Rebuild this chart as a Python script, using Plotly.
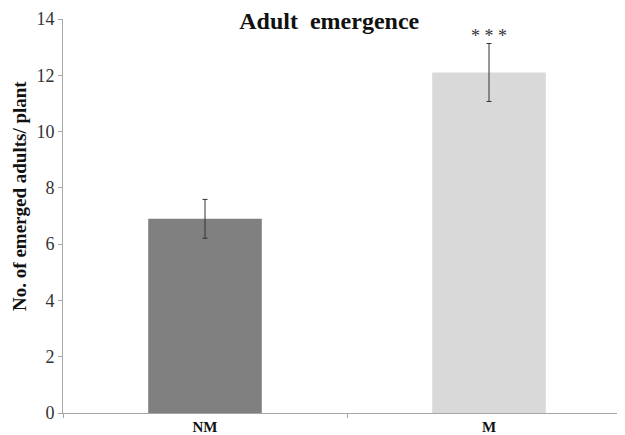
import plotly.graph_objects as go

categories = ["NM", "M"]
values = [6.9, 12.1]
errors = [0.69, 1.03]
colors = ["#808080", "#d9d9d9"]
significance = ["", "* * *"]

fig = go.Figure()
fig.add_trace(go.Bar(
    x=categories, y=values, width=0.4,
    marker=dict(color=colors, line=dict(width=0)),
    error_y=dict(type="data", array=errors, visible=True,
                 color="#333333", thickness=1, width=2.5),
))

for c, v, e, s in zip(categories, values, errors, significance):
    if s:
        fig.add_annotation(x=c, y=v + e, text=s, showarrow=False,
                           yanchor="bottom", yshift=-5,
                           font=dict(family="Liberation Serif", size=18, color="#333333"))

fig.add_annotation(xref="paper", yref="paper", x=-0.0757, y=0.551,
                   text="<b>No. of emerged adults/ plant</b>", textangle=-90,
                   showarrow=False, xanchor="center", yanchor="middle",
                   font=dict(family="Liberation Serif", size=19, color="#111111"))

fig.update_layout(
    width=625, height=435,
    margin=dict(l=55, r=2, t=11, b=30),
    plot_bgcolor="white", paper_bgcolor="white",
    showlegend=False,
    title=dict(text="<b>Adult&nbsp; emergence</b>", x=0.514, xanchor="center",
               y=0.971, yanchor="middle",
               font=dict(family="Liberation Serif", size=24, color="#111111")),
    font=dict(family="Liberation Serif", color="#333333"),
    xaxis=dict(range=[-0.5, 1.5], showline=True, linecolor="#a6a6a6", linewidth=1,
               ticks="outside", tickson="boundaries", ticklen=4, tickcolor="#a6a6a6",
               tickfont=dict(family="Liberation Serif", size=15, color="#111111"),
               showgrid=False, automargin=False),
    yaxis=dict(range=[0, 14], dtick=2, showline=True, linecolor="#a6a6a6", linewidth=1,
               ticks="outside", ticklen=4, tickcolor="#a6a6a6",
               tickfont=dict(family="Liberation Serif", size=18, color="#333333"),
               showgrid=False, zeroline=False, automargin=False),
)
fig.update_xaxes(tickvals=categories, ticktext=["<b>NM</b>", "<b>M</b>"])
fig.write_html("out.html")
